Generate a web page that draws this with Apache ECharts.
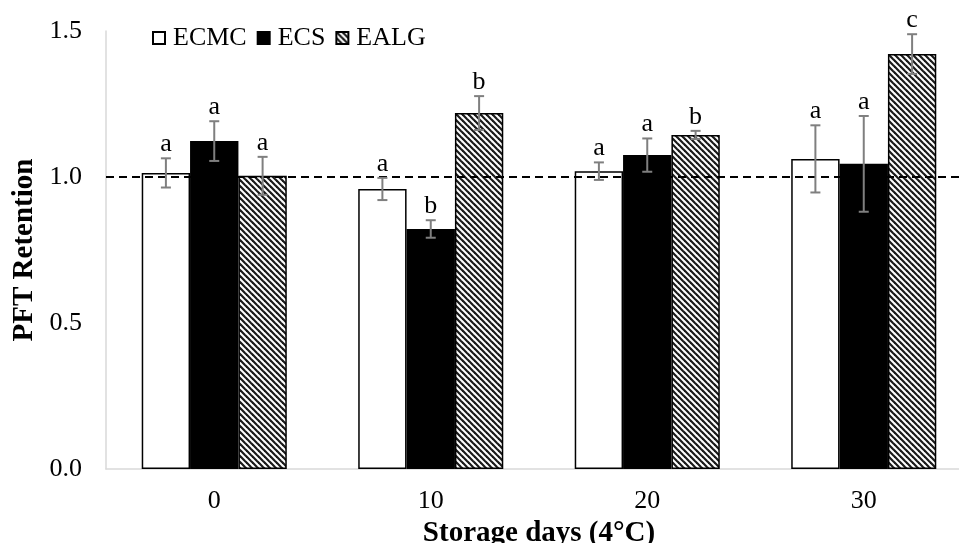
<!DOCTYPE html>
<html>
<head>
<meta charset="utf-8">
<script src="https://cdn.jsdelivr.net/npm/echarts@6/dist/echarts.min.js"></script>
<style>html,body{margin:0;padding:0;background:#fff;}#c{width:959px;height:543px;}</style>
</head>
<body>
<div id="c"></div>
<script>
const categories = ['0', '10', '20', '30'];
const seriesNames = ['ECMC', 'ECS', 'EALG'];
const ecmcValues = [1.014, 0.959, 1.020, 1.062];
const ecsValues = [1.123, 0.822, 1.075, 1.045];
const ealgValues = [1.004, 1.219, 1.144, 1.421];
const ecmcErrors = [0.050, 0.038, 0.030, 0.115];
const ecsErrors = [0.068, 0.030, 0.057, 0.164];
const ealgErrors = [0.065, 0.058, 0.014, 0.068];
const ecmcLetters = ['a', 'a', 'a', 'a'];
const ecsLetters = ['a', 'b', 'a', 'a'];
const ealgLetters = ['a', 'b', 'b', 'c'];
const yTicks = [0, 0.5, 1.0, 1.5];
const referenceValue = 1.0;

const FONT = "'Liberation Serif', 'Times New Roman', serif";
const GAP = 0.33;

function makeHatch() {
  const n = 6;
  const cv = document.createElement('canvas');
  cv.width = n; cv.height = n;
  const ctx = cv.getContext('2d');
  ctx.fillStyle = '#fff';
  ctx.fillRect(0, 0, n, n);
  ctx.strokeStyle = '#1a1a1a';
  ctx.lineWidth = 2.2;
  for (let c = -n; c <= n; c += n) {
    ctx.beginPath();
    ctx.moveTo(-1, -1 + c);
    ctx.lineTo(n + 1, n + 1 + c);
    ctx.stroke();
  }
  return cv;
}
const hatch = { image: makeHatch(), repeat: 'repeat' };

const values = [ecmcValues, ecsValues, ealgValues];
const errors = [ecmcErrors, ecsErrors, ealgErrors];
const letters = [ecmcLetters, ecsLetters, ealgLetters];
const fills = ['#ffffff', '#000000', hatch];

const chart = echarts.init(document.getElementById('c'), null, { renderer: 'canvas' });

const barSeries = seriesNames.map((name, k) => ({
  name: name,
  type: 'bar',
  data: values[k],
  barGap: '0%',
  barCategoryGap: (GAP * 100) + '%',
  itemStyle: { color: fills[k], borderColor: '#000', borderWidth: 1.5 },
  emphasis: { disabled: true },
  z: 2,
  markLine: k === 0 ? {
    silent: true,
    symbol: ['none', 'none'],
    label: { show: false },
    lineStyle: { color: '#000', width: 2, type: [8, 5] },
    data: [{ yAxis: referenceValue }],
    z: 5
  } : undefined
}));

const errSeries = seriesNames.map((name, k) => ({
  name: name + ' err',
  type: 'custom',
  z: 10,
  silent: true,
  data: categories.map((c, i) => [i, values[k][i], errors[k][i]]),
  renderItem: function (params, api) {
    const i = api.value(0), v = api.value(1), e = api.value(2);
    const letter = letters[k][i];
    const catW = api.size([1, 0])[0];
    const barW = catW * (1 - GAP) / 3;
    const c = api.coord([i, v]);
    const x = c[0] + (k - 1) * barW;
    const yTop = api.coord([i, v + e])[1];
    const yBot = api.coord([i, v - e])[1];
    const cap = 5;
    const st = { stroke: '#7f7f7f', lineWidth: 2 };
    return {
      type: 'group',
      children: [
        { type: 'line', shape: { x1: x, y1: yTop, x2: x, y2: yBot }, style: st },
        { type: 'line', shape: { x1: x - cap, y1: yTop, x2: x + cap, y2: yTop }, style: st },
        { type: 'line', shape: { x1: x - cap, y1: yBot, x2: x + cap, y2: yBot }, style: st },
        { type: 'text', style: { text: letter, x: x, y: yTop - 1, align: 'center', verticalAlign: 'bottom', fontFamily: FONT, fontSize: 26, fill: '#000' } }
      ]
    };
  }
}));

chart.setOption({
  animation: false,
  backgroundColor: '#fff',
  grid: { left: 106, right: -13, top: 31, bottom: 74, containLabel: false, outerBoundsMode: 'none' },
  legend: {
    data: seriesNames,
    left: 147,
    top: 20,
    itemWidth: 12,
    itemHeight: 12,
    itemGap: 10,
    icon: 'rect',
    textStyle: { fontFamily: FONT, fontSize: 26, color: '#000', padding: [0, 0, 0, 3] },
    selectedMode: false
  },
  xAxis: {
    type: 'category',
    data: categories,
    axisLine: { lineStyle: { color: '#d9d9d9', width: 1.5 } },
    axisTick: { show: false },
    axisLabel: { fontFamily: FONT, fontSize: 26, color: '#000', margin: 19 },
    name: 'Storage days (4°C)',
    nameLocation: 'middle',
    nameGap: 41,
    nameTextStyle: { fontFamily: FONT, fontSize: 29, fontWeight: 'bold', color: '#000' }
  },
  yAxis: {
    type: 'value',
    min: yTicks[0],
    max: yTicks[yTicks.length - 1],
    interval: 0.5,
    axisLine: { show: true, lineStyle: { color: '#d9d9d9', width: 1.5 } },
    axisTick: { show: false },
    splitLine: { show: false },
    axisLabel: { fontFamily: FONT, fontSize: 26, color: '#000', margin: 24, formatter: v => v.toFixed(1) },
    name: 'PFT Retention',
    nameLocation: 'middle',
    nameGap: 66,
    nameTextStyle: { fontFamily: FONT, fontSize: 29, fontWeight: 'bold', color: '#000' }
  },
  series: barSeries.concat(errSeries)
});
</script>
</body>
</html>
